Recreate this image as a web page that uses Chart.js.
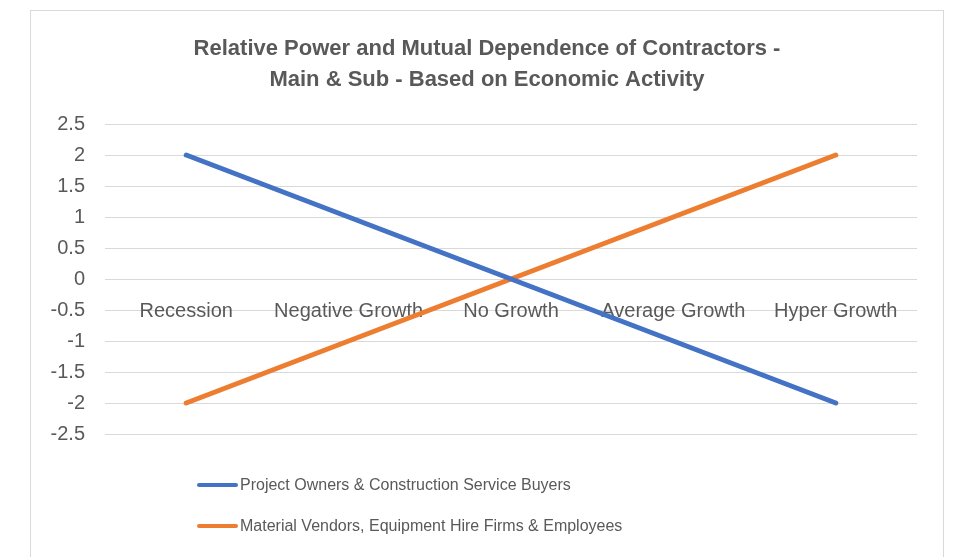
<!DOCTYPE html>
<html>
<head>
<meta charset="utf-8">
<script src="https://cdn.jsdelivr.net/npm/chart.js@4"></script>
<style>
  html, body { margin: 0; padding: 0; background: #fff; }
  #wrap { width: 957px; height: 557px; }
</style>
</head>
<body>
<div id="wrap"><canvas id="chart"></canvas></div>
<script>
const categories = ['Recession', 'Negative Growth', 'No Growth', 'Average Growth', 'Hyper Growth'];
const ownersValues = [2, 1, 0, -1, -2];
const vendorsValues = [-2, -1, 0, 1, 2];
const yTicks = [2.5, 2, 1.5, 1, 0.5, 0, -0.5, -1, -1.5, -2, -2.5];
const titleLines = ['Relative Power and Mutual Dependence of Contractors -', 'Main & Sub - Based on Economic Activity'];

const textGrey = '#595959';
const fontFamily = "'Liberation Sans', Arial, sans-serif";

// white card with a light border, like the Excel chart frame
const framePlugin = {
  id: 'frame',
  beforeDraw(chart) {
    const ctx = chart.ctx;
    ctx.save();
    ctx.fillStyle = '#fff';
    ctx.fillRect(0, 0, chart.width, chart.height);
    ctx.strokeStyle = '#d9d9d9';
    ctx.lineWidth = 1;
    ctx.strokeRect(30.5, 10.5, 913, 600);
    ctx.restore();
  }
};

// stacked legend under the plot, one series per row
const stackedLegend = {
  id: 'stackedLegend',
  afterDraw(chart) {
    const ctx = chart.ctx;
    ctx.save();
    ctx.font = '16px ' + fontFamily;
    ctx.textBaseline = 'middle';
    ctx.lineCap = 'round';
    chart.data.datasets.forEach((ds, i) => {
      const y = 485 + i * 41;
      ctx.strokeStyle = ds.borderColor;
      ctx.lineWidth = 4;
      ctx.beginPath();
      ctx.moveTo(199, y);
      ctx.lineTo(236, y);
      ctx.stroke();
      ctx.fillStyle = textGrey;
      ctx.fillText(ds.label, 240, y + 1);
    });
    ctx.restore();
  }
};

new Chart(document.getElementById('chart'), {
  type: 'line',
  data: {
    labels: categories,
    datasets: [
      {
        label: 'Project Owners & Construction Service Buyers',
        data: ownersValues,
        borderColor: '#4472C4',
        backgroundColor: '#4472C4',
        borderWidth: 5,
        borderCapStyle: 'round',
        pointRadius: 0,
        tension: 0
      },
      {
        label: 'Material Vendors, Equipment Hire Firms & Employees',
        data: vendorsValues,
        borderColor: '#ED7D31',
        backgroundColor: '#ED7D31',
        borderWidth: 5,
        borderCapStyle: 'round',
        pointRadius: 0,
        tension: 0
      }
    ]
  },
  options: {
    responsive: true,
    maintainAspectRatio: false,
    animation: false,
    layout: { padding: { left: 17, right: 0, top: 0, bottom: 123 } },
    plugins: {
      legend: { display: false },
      tooltip: { enabled: false },
      title: {
        display: true,
        text: titleLines,
        color: textGrey,
        font: { family: fontFamily, size: 22, weight: 'bold', lineHeight: 1.41 },
        padding: { top: 33, bottom: 29 }
      }
    },
    scales: {
      x: {
        type: 'category',
        position: { y: 0 },
        offset: true,
        grid: { display: false, drawTicks: false },
        border: { display: false },
        ticks: {
          color: textGrey,
          font: { family: fontFamily, size: 20 },
          padding: 20,
          maxRotation: 0,
          autoSkip: false
        }
      },
      y: {
        position: 'left',
        min: -2.5,
        max: 2.5,
        afterBuildTicks: scale => { scale.ticks = yTicks.map(v => ({ value: v })); },
        afterFit: scale => { scale.width = 88; },
        grid: { color: '#d9d9d9', lineWidth: 1, drawTicks: false },
        border: { display: false },
        ticks: {
          color: textGrey,
          font: { family: fontFamily, size: 20 },
          padding: 20,
          callback: v => String(v)
        }
      },
      // empty right-hand axis that only holds the right margin
      yRight: {
        position: 'right',
        min: -2.5,
        max: 2.5,
        afterFit: scale => { scale.width = 40; },
        grid: { display: false, drawTicks: false },
        border: { display: false },
        ticks: { display: false }
      }
    }
  },
  plugins: [framePlugin, stackedLegend]
});
</script>
</body>
</html>
